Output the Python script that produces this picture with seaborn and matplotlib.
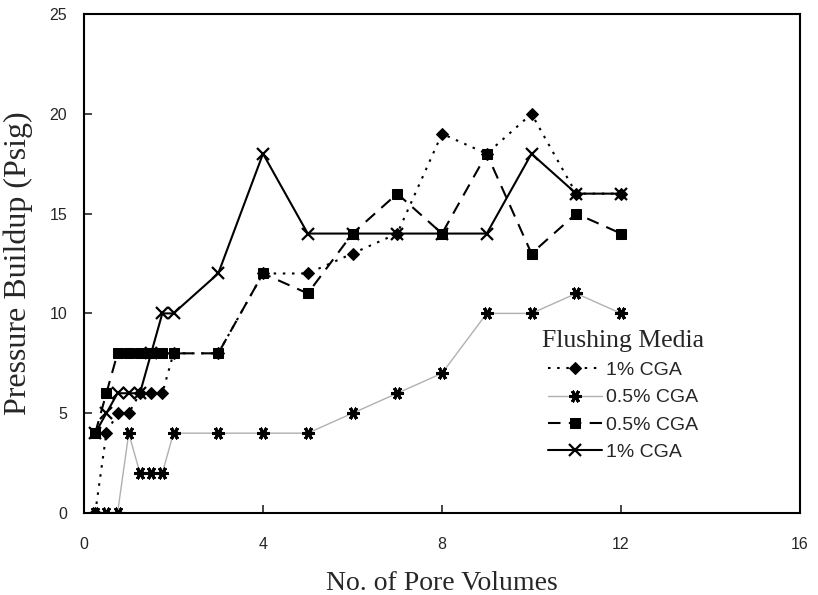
import matplotlib
matplotlib.use("Agg")
import matplotlib.pyplot as plt
import seaborn as sns
import pandas as pd

pore_volumes = [0.25, 0.5, 0.75, 1.0, 1.25, 1.5, 1.75, 2, 3, 4, 5, 6, 7, 8, 9, 10, 11, 12]
p_1cga_diamond = [0, 4, 5, 5, 6, 6, 6, 8, 8, 12, 12, 13, 14, 19, 18, 20, 16, 16]
p_05cga_star = [0, 0, 0, 4, 2, 2, 2, 4, 4, 4, 4, 5, 6, 7, 10, 10, 11, 10]
p_05cga_square = [4, 6, 8, 8, 8, 8, 8, 8, 8, 12, 11, 14, 16, 14, 18, 13, 15, 14]
p_1cga_x = [4, 5, 6, 6, 6, 8, 10, 10, 12, 18, 14, 14, 14, 14, 14, 18, 16, 16]

labels = ["1% CGA", "0.5% CGA", "0.5% CGA", "1% CGA"]
x_ticks = [0, 4, 8, 12, 16]
y_ticks = [0, 5, 10, 15, 20, 25]

sns.set_style("ticks")
plt.rcParams["xtick.direction"] = "in"
plt.rcParams["ytick.direction"] = "in"

fig = plt.figure(figsize=(8.18, 5.95), dpi=100)
ax = fig.add_axes([84 / 818, (595 - 513) / 595, 716 / 818, 499 / 595])

styles = [
    dict(color="black", linestyle=(0, (1.2, 3.2)), linewidth=1.5, marker="D",
         markersize=6.5, markerfacecolor="black", markeredgecolor="black"),
    dict(color="#b0b0b0", linestyle="-", linewidth=1.0, marker=(6, 2, 90),
         markersize=9, markeredgewidth=2.2, markerfacecolor="black", markeredgecolor="black"),
    dict(color="black", linestyle=(0, (6, 4)), linewidth=1.5, marker="s",
         markersize=7.5, markerfacecolor="black", markeredgecolor="black"),
    dict(color="black", linestyle="-", linewidth=1.5, marker="x",
         markersize=8, markeredgewidth=1.6, markeredgecolor="black"),
]
series = [p_1cga_diamond, p_05cga_star, p_05cga_square, p_1cga_x]

for vals, lab, st in zip(series, labels, styles):
    df = pd.DataFrame({"x": pore_volumes, "y": vals})
    sns.lineplot(data=df, x="x", y="y", ax=ax, label=lab, sort=False, **st)

ax.set_xlim(0, 16)
ax.set_ylim(0, 25)
ax.set_xticks(x_ticks)
ax.set_yticks(y_ticks)
ax.tick_params(axis="both", direction="in", length=6, width=1.2, labelsize=11.5,
               top=False, right=False)
ax.tick_params(axis="x", pad=17)
ax.tick_params(axis="y", pad=12)
for lab in ax.get_xticklabels() + ax.get_yticklabels():
    lab.set_fontfamily("Liberation Sans")
for sp in ax.spines.values():
    sp.set_visible(True)
    sp.set_linewidth(1.5)
    sp.set_color("black")

ax.set_xlabel("No. of Pore Volumes", fontfamily="Liberation Serif", fontsize=20, labelpad=14)
ax.set_ylabel("Pressure Buildup (Psig)", fontfamily="Liberation Serif", fontsize=23, labelpad=12)

leg = ax.legend(loc="upper left", bbox_to_anchor=((534 - 84) / 716, (513 - 322) / 499),
                frameon=False, title="Flushing Media", handlelength=2.8,
                prop={"family": "Liberation Sans", "size": 14}, labelspacing=0.5,
                handletextpad=0.2, borderaxespad=0)
leg.get_title().set_fontfamily("Liberation Serif")
leg.get_title().set_fontsize(18.5)

fig.savefig("out.png", dpi=100)
